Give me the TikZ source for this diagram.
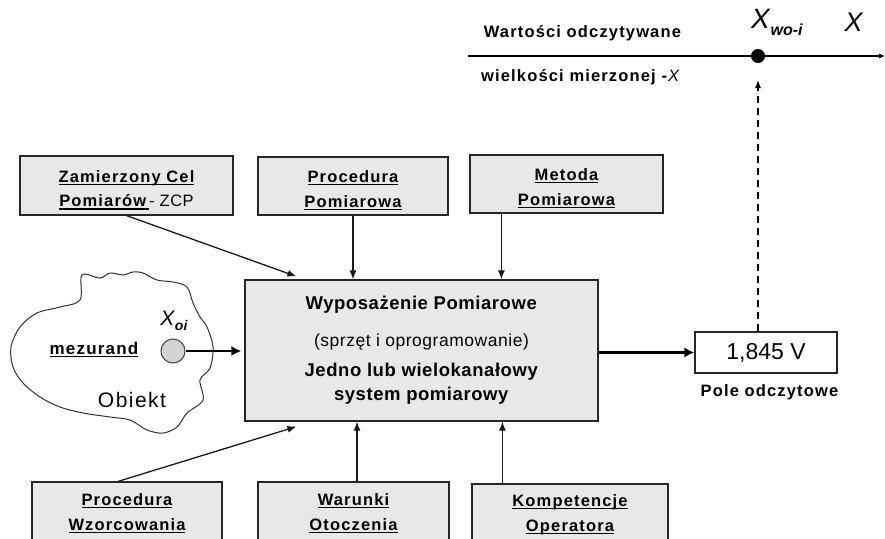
\documentclass[tikz,border=0pt]{standalone}
\usepackage{fontspec}
\setmainfont{Liberation Sans}
\newfontfamily\lsfont[LetterSpace=7]{Liberation Sans}
\newfontfamily\lsfontb[LetterSpace=3]{Liberation Sans}
\usetikzlibrary{arrows.meta,calc}
\definecolor{boxgray}{RGB}{232,232,232}
\definecolor{dotgray}{RGB}{212,212,212}
\newcommand\ulx[1]{\setbox0\hbox{#1}\rlap{\rule[-2.6pt]{\wd0}{1.1pt}}\box0}
\newcommand\tp{\rule{0pt}{21pt}}
\begin{document}
\begin{tikzpicture}[x=1pt,y=-1pt,
  boxn/.style={draw=black!85, line width=1.2pt, fill=boxgray, align=center, inner sep=0pt,
    font=\lsfont\fontsize{16.5}{25}\selectfont},
  thinarrow/.style={line width=1.3pt, draw=black!90, -{Latex[length=9pt,width=7pt]}},
  thickarrow/.style={line width=2.8pt, -{Latex[length=10pt,width=10pt]}},
  plainline/.style={line width=1pt, draw=black!90}]
\useasboundingbox (0,0) rectangle (885,538);
\clip (0,0) rectangle (885,538);

% top boxes
\node[boxn, minimum width=213pt, minimum height=59pt] (b1) at (126.5,185.5)
  {\tp\textbf{\ulx{Zamierzony Cel}}\\[-0.5pt]\textbf{\ulx{Pomiarów\hspace{3pt}}}{\lsfontb - ZCP}};
\node[boxn, minimum width=190pt, minimum height=58pt] (b2) at (353,186)
  {\tp\textbf{\ulx{Procedura}}\\\textbf{\ulx{Pomiarowa}}};
\node[boxn, minimum width=193pt, minimum height=58pt] (b3) at (566.5,184)
  {\tp\textbf{\ulx{Metoda}}\\\textbf{\ulx{Pomiarowa}}};

% bottom boxes
\node[boxn, minimum width=190pt, minimum height=63pt] (b4) at (127,513.5)
  {\textbf{\ulx{Procedura}}\\\textbf{\ulx{Wzorcowania}}};
\node[boxn, minimum width=191pt, minimum height=63pt] (b5) at (353.5,513.5)
  {\textbf{\ulx{Warunki}}\\\textbf{\ulx{Otoczenia}}};
\node[boxn, minimum width=196pt, minimum height=61pt] (b6) at (570,514.5)
  {\textbf{\ulx{Kompetencje}}\\\textbf{\ulx{Operatora}}};

% main box
\node[boxn, minimum width=353pt, minimum height=141pt, font=\lsfontb\fontsize{18.5}{24}\selectfont] (main) at (421.5,350.5)
  {\textbf{Wyposażenie Pomiarowe}\\[13pt]
   {\fontsize{17.5}{24}\selectfont (sprzęt i oprogramowanie)}\\[6pt]
   \textbf{Jedno lub wielokanałowy}\\
   \textbf{system pomiarowy}};

% object cloud
\draw[line width=1pt, draw=black!80] plot[smooth cycle, tension=0.55] coordinates {
  (82,275) (100,278) (110,273) (123,275) (133,272) (143,273) (157,280) (173,282)
  (187,287) (193,303) (200,317) (207,327) (213,347) (210,368) (200,380) (203,400)
  (187,413) (177,427) (163,433) (147,430) (130,420) (110,417) (83,413) (60,407)
  (40,397) (23,383) (13,367) (11,347) (20,327) (37,313) (60,307) (80,300)};
\node[circle, minimum size=24pt, inner sep=0pt, fill=dotgray, draw=black!75, line width=1pt] (src) at (173,351) {};
\node (xoi) at (174,321) {\fontsize{21}{21}\selectfont\textit{X}\raisebox{-5pt}{\fontsize{14}{14}\selectfont\textbf{\textit{oi}}}};
\node[font=\lsfont\fontsize{17}{20}\selectfont] (mez) at (94,350) {\textbf{\ulx{mezurand}}};
\node[font=\lsfont\fontsize{21}{24}\selectfont] (obj) at (132,400) {Obiekt};

% result
\node[draw=black!85, line width=1.2pt, fill=white, minimum width=142pt, minimum height=41pt, inner sep=0pt,
  font=\fontsize{23}{26}\selectfont] (res) at (766,352.5) {1,845 V};
\node[font=\lsfont\fontsize{16.5}{20}\selectfont] (pole) at (770,392) {\textbf{Pole odczytowe}};

% axis
\coordinate (axl) at (468,56);
\coordinate (axr) at (885,56);
\draw[line width=1.1pt, -{Latex[length=6pt,width=5pt]}] (axl) -- (axr);
\node[circle, fill=black, minimum size=14pt, inner sep=0pt] (dot) at (758,56) {};
\node[font=\lsfont\fontsize{16.5}{20}\selectfont] (wart) at (583,33) {\textbf{Wartości odczytywane}};
\node[font=\lsfont\fontsize{16.5}{20}\selectfont] (wiel) at (581,77) {\textbf{wielkości mierzonej -}\textit{X}};
\node (xwo) at (777,22) {\fontsize{28}{28}\selectfont\textit{X}\raisebox{-7pt}{\fontsize{16}{16}\selectfont\textbf{\textit{wo-i}}}};
\node (xax) at (854,22) {\fontsize{27}{27}\selectfont\textit{X}};
\coordinate (tipd) at (758,80);
\draw[line width=1.3pt, dash pattern=on 7pt off 5pt, -{Latex[length=8pt,width=6pt]}] (tipd |- res.north) -- (tipd);

% connector anchor points
\coordinate (c1) at ($(main.north west)+(52,-3)$);
\coordinate (c3) at ($(b3.south west)+(32,0)$);
\coordinate (c4s) at ($(b4.north)+(-9,0)$);
\coordinate (c4) at ($(main.south west)+(52,5)$);
\coordinate (c5) at ($(b5.north)+(3.5,0)$);
\coordinate (c6) at ($(b6.north west)+(31,0)$);
\coordinate (csrc) at ($(main.west |- src)+(-3,0)$);

% connectors
\draw[thinarrow] (b1.south) -- (c1);
\draw[thinarrow] (b2.south) -- (b2.south |- main.north);
\draw[thinarrow] (c3) -- (c3 |- main.north);
\draw[thinarrow] (c4s) -- (c4);
\draw[thinarrow] (c5) -- (c5 |- main.south);
\draw[thinarrow] (c6) -- (c6 |- main.south);
\draw[thickarrow] (src.east) -- (csrc);
\draw[thickarrow] (main.east |- res.west) -- (res.west);
\end{tikzpicture}
\end{document}
